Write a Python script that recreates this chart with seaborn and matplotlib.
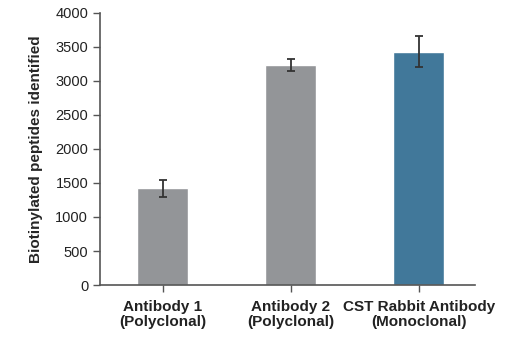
import matplotlib
matplotlib.use("Agg")
import matplotlib.pyplot as plt
import seaborn as sns
import pandas as pd

categories = ["Antibody 1\n(Polyclonal)", "Antibody 2\n(Polyclonal)", "CST Rabbit Antibody\n(Monoclonal)"]
peptides = [1420, 3240, 3430]
errors = [130, 90, 225]
bar_colors = ["#939598", "#939598", "#41789a"]

sns.set_style("white")
plt.rcParams['font.family'] = ['Liberation Sans Narrow', 'Liberation Sans', 'DejaVu Sans']

df = pd.DataFrame({"antibody": categories, "peptides": peptides})

fig = plt.figure(figsize=(5.2, 3.5), dpi=100)
ax = fig.add_axes([0.1923, 0.1857, 0.7212, 0.7772])
sns.barplot(data=df, x="antibody", y="peptides", hue="antibody", palette=bar_colors,
            width=0.4, errorbar=None, legend=False, ax=ax, saturation=1)
ax.errorbar(categories, peptides, yerr=errors, fmt="none", ecolor="#333333",
            elinewidth=1.3, capsize=3, capthick=1.3)

ax.set_ylim(0, 4000)
ax.set_xlim(-0.49, 2.44)
ax.set_yticks(range(0, 4001, 500))
ax.set_xlabel("")
ax.set_ylabel("Biotinylated peptides identified", fontsize=11, fontweight="bold", labelpad=9)
ax.tick_params(axis="y", labelsize=10.5, length=5, width=1, color="#555555", direction="out", left=True,
               labelcolor="#222222")
ax.tick_params(axis="x", labelsize=11, length=5, width=1, color="#555555", direction="out", bottom=True,
               labelcolor="#222222", pad=6)
for lab in ax.get_xticklabels():
    lab.set_fontweight("bold")
    lab.set_linespacing(1.1)
sns.despine(ax=ax)
for side in ["left", "bottom"]:
    ax.spines[side].set_color("#555555")
    ax.spines[side].set_linewidth(1.2)

fig.savefig("out.png", dpi=100)
